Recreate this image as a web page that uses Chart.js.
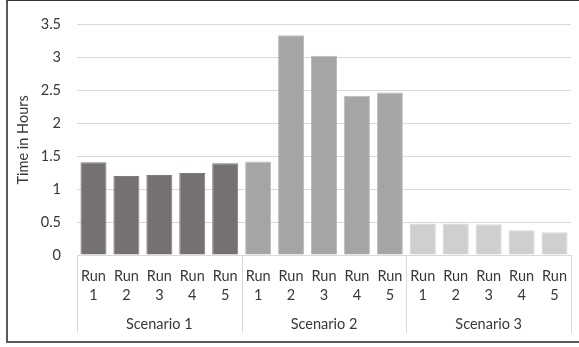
<!DOCTYPE html>
<html>
<head>
<meta charset="utf-8">
<script src="https://cdn.jsdelivr.net/npm/chart.js@4/dist/chart.umd.min.js"></script>
<style>
  html, body { margin: 0; padding: 0; background: #fff; }
  #wrap { position: relative; width: 579px; height: 347px; overflow: hidden; }
  #frame {
    position: absolute; left: 6px; top: 0; width: 620px; height: 343px;
    border-left: 2px solid #5a5a5a; border-top: 1px solid #333;
    border-bottom: 2px solid #5a5a5a; box-sizing: border-box; pointer-events: none;
  }
  canvas { position: absolute; left: 0; top: 0; }
</style>
</head>
<body>
<div id="wrap">
  <canvas id="c" width="579" height="347"></canvas>
  <div id="frame"></div>
</div>
<script>
// Run times (hours) per scenario
const scenarios = ['Scenario 1', 'Scenario 2', 'Scenario 3'];
const runs = ['Run 1', 'Run 2', 'Run 3', 'Run 4', 'Run 5'];
const scenario1Hours = [1.41, 1.20, 1.215, 1.245, 1.395];
const scenario2Hours = [1.42, 3.34, 3.03, 2.42, 2.47];
const scenario3Hours = [0.48, 0.48, 0.466, 0.375, 0.345];
const yTicks = [0, 0.5, 1, 1.5, 2, 2.5, 3, 3.5];

const fills = ['#767171', '#A5A5A5', '#D0CECE'];
const edges = ['#7f7a7a', '#BDBDBD', '#D6D4D4'];

const groups = [scenario1Hours, scenario2Hours, scenario3Hours];
const labels = [];
const values = [];
const barFill = [];
const barEdge = [];
groups.forEach((g, gi) => {
  g.forEach((v, ri) => {
    labels.push(runs[ri].split(' '));
    values.push(v);
    barFill.push(fills[gi]);
    barEdge.push(edges[gi]);
  });
});

const FONT = "Lato, 'Liberation Sans', sans-serif";
const TEXT = '#383838';
const SIZE = 14.5;

// Vertical separators for the two-level category axis
const groupLines = {
  id: 'groupLines',
  afterDraw(chart) {
    const x = chart.scales.x;
    const x2 = chart.scales.x2;
    const ctx = chart.ctx;
    const per = runs.length;
    const half = (x.getPixelForValue(1) - x.getPixelForValue(0)) / 2;
    ctx.save();
    ctx.strokeStyle = '#D9D9D9';
    ctx.lineWidth = 1;
    for (let g = 0; g <= scenarios.length; g++) {
      const idx = Math.min(g * per, labels.length - 1);
      let px = x.getPixelForValue(idx) + (g * per >= labels.length ? half : -half);
      px = Math.round(px) + 0.5;
      ctx.beginPath();
      ctx.moveTo(px, chart.chartArea.bottom);
      ctx.lineTo(px, x2.bottom - 2);
      ctx.stroke();
    }
    ctx.restore();
  }
};

new Chart(document.getElementById('c'), {
  type: 'bar',
  data: {
    labels: labels,
    datasets: [{
      data: values,
      backgroundColor: barFill,
      borderColor: barEdge,
      borderWidth: 1,
      barPercentage: 0.79,
      categoryPercentage: 1.0
    }]
  },
  options: {
    responsive: false,
    animation: false,
    devicePixelRatio: 1,
    layout: { padding: { left: 12, right: 8, top: 6, bottom: 12 } },
    plugins: { legend: { display: false }, tooltip: { enabled: false } },
    scales: {
      y: {
        min: 0, max: 3.5,
        afterBuildTicks(scale) { scale.ticks = yTicks.map(v => ({ value: v })); },
        afterFit(scale) { scale.width = 65; },
        grid: { color: '#D9D9D9', lineWidth: 1, drawTicks: false },
        border: { display: false },
        ticks: {
          padding: 16, color: TEXT, font: { family: FONT, size: SIZE },
          callback: (v) => String(v)
        },
        title: { display: true, text: 'Time in Hours', color: TEXT, font: { family: FONT, size: SIZE }, padding: { top: 3, bottom: 3 } }
      },
      x: {
        position: 'bottom',
        afterFit(scale) { scale.height = 50; },
        grid: { display: false },
        border: { display: true, color: '#D9D9D9', width: 1 },
        ticks: { padding: 4, maxRotation: 0, autoSkip: false, color: TEXT, font: { family: FONT, size: SIZE, lineHeight: 1.3 } }
      },
      x2: {
        type: 'category',
        position: 'bottom',
        labels: scenarios,
        offset: true,
        afterFit(scale) { scale.height = 30; },
        grid: { display: false },
        border: { display: false },
        ticks: { padding: 3, maxRotation: 0, color: TEXT, font: { family: FONT, size: SIZE } }
      }
    }
  },
  plugins: [groupLines]
});
</script>
</body>
</html>
